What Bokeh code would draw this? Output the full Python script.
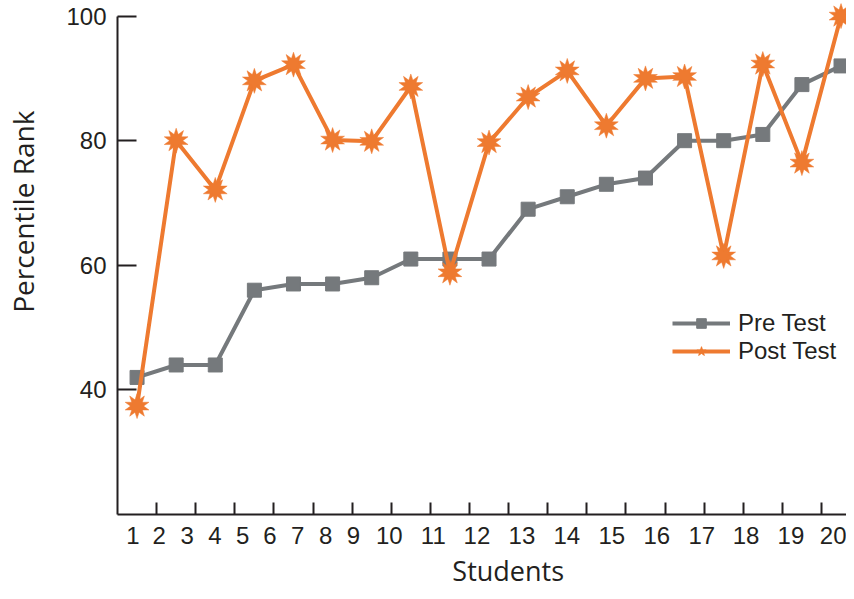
import math
from bokeh.plotting import figure
from bokeh.models import (FixedTicker, LinearAxis, Legend, LegendItem,
                          Range1d, ColumnDataSource)
from bokeh.embed import file_html
from bokeh.resources import INLINE

# ---- data ----
students = list(range(1, 20))
pre_test = [42, 44, 44, 56, 57, 57, 58, 61, 61, 61, 69, 71, 73, 74, 80, 80, 81, 89, 92]
post_test = [37.4, 80, 72.1, 89.6, 92.2, 80.1, 79.9, 88.7, 58.8, 79.7, 87, 91.2, 82.4,
             90, 90.3, 61.5, 92.3, 76.4, 100]
tick_labels = [str(i) for i in range(1, 21)]
y_ticks = [40, 60, 80, 100]
x_title = "Students"
y_title = "Percentile Rank"

# ---- layout constants (label / title placement, as in the source) ----
label_pos = [0.895, 1.568, 2.284, 2.992, 3.70, 4.40, 5.107, 5.82, 6.53, 7.45,
             8.575, 9.69, 10.84, 11.99, 13.14, 14.29, 15.44, 16.57, 17.72, 18.85]
x_title_pos = 10.49
y_title_pos = 68.6

GRAY = "#75797c"
ORANGE = "#ee7a30"
INK = "#231f20"

p = figure(width=846, height=591, output_backend="svg", toolbar_location=None,
           x_range=Range1d(0.5, 19.14), y_range=Range1d(20, 102.5),
           x_axis_type=None, y_axis_type=None,
           min_border_left=117, min_border_right=0, min_border_top=0,
           min_border_bottom=77)
p.outline_line_color = None
p.background_fill_color = "white"
p.border_fill_color = "white"

# y axis
yax = LinearAxis(ticker=FixedTicker(ticks=y_ticks), bounds=(20, 100))
yax.axis_line_color = INK
yax.axis_line_width = 2
yax.major_tick_in = 19
yax.major_tick_out = 0
yax.major_tick_line_color = INK
yax.major_tick_line_width = 2
yax.minor_tick_line_color = None
yax.major_label_standoff = 11
yax.major_label_text_font = "Liberation Sans"
yax.major_label_text_font_size = "24px"
yax.major_label_text_color = INK
p.add_layout(yax, "left")

# y title (placed as a single parallel label on an unlined axis)
ytitle_ax = LinearAxis(ticker=FixedTicker(ticks=[y_title_pos]),
                       major_label_overrides={y_title_pos: y_title},
                       major_label_orientation="parallel")
ytitle_ax.axis_line_color = None
ytitle_ax.major_tick_line_color = None
ytitle_ax.minor_tick_line_color = None
ytitle_ax.major_tick_in = 0
ytitle_ax.major_tick_out = 0
ytitle_ax.major_label_standoff = 21
ytitle_ax.major_label_text_font = "Open Sans"
ytitle_ax.major_label_text_font_size = "28px"
ytitle_ax.major_label_text_color = INK
p.add_layout(ytitle_ax, "left")

# x axis: student number labels, tick marks between students as minor ticks
edges = [s + 0.5 for s in students[:-1]]
xax = LinearAxis(ticker=FixedTicker(ticks=label_pos, minor_ticks=edges),
                 major_label_overrides={pos: lab for pos, lab in zip(label_pos, tick_labels)})
xax.axis_line_color = INK
xax.axis_line_width = 2
xax.major_tick_line_color = None
xax.major_tick_in = 0
xax.major_tick_out = 0
xax.minor_tick_line_color = INK
xax.minor_tick_line_width = 2
xax.minor_tick_in = 12
xax.minor_tick_out = 0
xax.major_label_standoff = 12
xax.major_label_text_font = "Liberation Sans"
xax.major_label_text_font_size = "24px"
xax.major_label_text_color = INK
p.add_layout(xax, "below")

# x title
xtitle_ax = LinearAxis(ticker=FixedTicker(ticks=[x_title_pos]),
                       major_label_overrides={x_title_pos: x_title})
xtitle_ax.axis_line_color = None
xtitle_ax.major_tick_line_color = None
xtitle_ax.minor_tick_line_color = None
xtitle_ax.major_tick_in = 0
xtitle_ax.major_tick_out = 0
xtitle_ax.major_label_standoff = 5
xtitle_ax.major_label_text_font = "Open Sans"
xtitle_ax.major_label_text_font_size = "27px"
xtitle_ax.major_label_text_color = INK
p.add_layout(xtitle_ax, "below")

p.xgrid.visible = False
p.ygrid.visible = False

src = ColumnDataSource(dict(x=students, pre=pre_test, post=post_test))

pre_line = p.line("x", "pre", source=src, line_color=GRAY, line_width=4)
pre_mark = p.scatter("x", "pre", source=src, marker="square", size=14,
                     fill_color=GRAY, line_color=GRAY)

post_line = p.line("x", "post", source=src, line_color=ORANGE, line_width=4)
post_core = p.scatter("x", "post", source=src, marker="circle", size=12,
                      fill_color=ORANGE, line_color=ORANGE)
post_star1 = p.scatter("x", "post", source=src, marker="star", size=25,
                       fill_color=ORANGE, line_color=ORANGE, line_width=0.5)
post_star2 = p.scatter("x", "post", source=src, marker="star", size=25, angle=math.pi / 5,
                       fill_color=ORANGE, line_color=ORANGE, line_width=0.5)

legend = Legend(items=[
    LegendItem(label="Pre Test", renderers=[pre_line, pre_mark]),
    LegendItem(label="Post Test", renderers=[post_line, post_star1, post_star2]),
], location=(555, 149))
legend.border_line_color = None
legend.background_fill_alpha = 0
legend.padding = 0
legend.margin = 0
legend.spacing = 0
legend.glyph_width = 58
legend.glyph_height = 24
legend.label_height = 24
legend.label_standoff = 8
legend.label_text_font = "Liberation Sans"
legend.label_text_font_size = "24px"
legend.label_text_color = INK
p.add_layout(legend, "center")

open("out.html", "w").write(file_html(p, INLINE))
